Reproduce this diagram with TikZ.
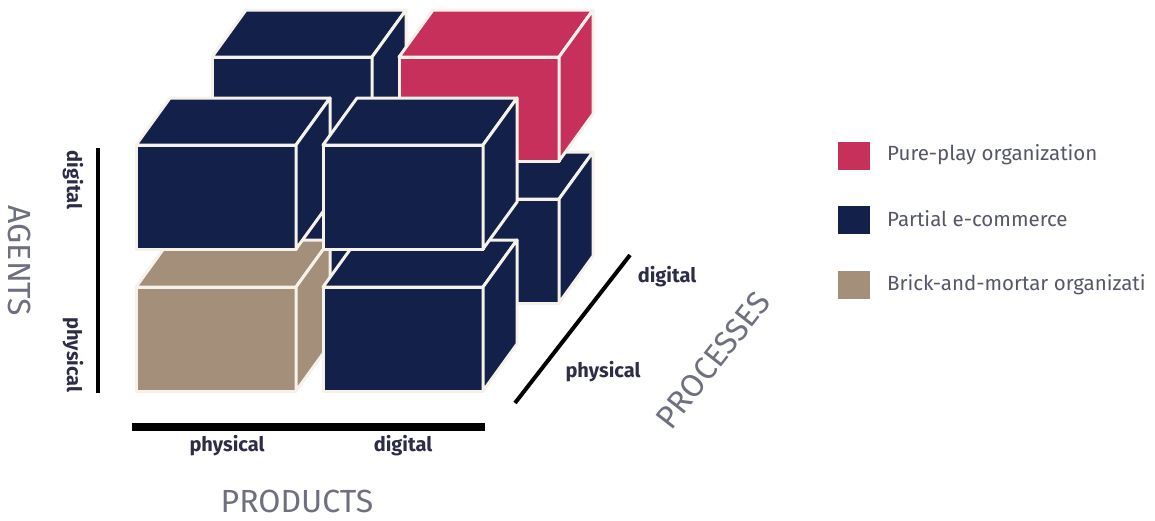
\documentclass[tikz,border=0pt]{standalone}
\usepackage{fontspec}
\setmainfont{Fira Sans}
\usepackage{tikz}
\usetikzlibrary{positioning}

\definecolor{navy}{HTML}{13214A}
\definecolor{pureplay}{HTML}{C8305C}
\definecolor{brick}{HTML}{A38F7A}
\definecolor{edge}{HTML}{F6F2EA}
\definecolor{legendgray}{HTML}{55566A}
\definecolor{titlegray}{HTML}{6E6F80}
\definecolor{labeldark}{HTML}{2E2D48}

% one box of the cube: front-top-left corner x, y and its fill colour
\newcommand{\cuboid}[3]{%
  \filldraw[boxedge,fill=#3] (#1,#2) rectangle ++(160,104);
  \filldraw[boxedge,fill=#3] (#1,#2) -- ++(160,0) -- ++(34,-47) -- ++(-160,0) -- cycle;
  \filldraw[boxedge,fill=#3] (#1+160,#2) -- ++(34,-47) -- ++(0,104) -- ++(-34,47) -- cycle;
}

\begin{document}
\begin{tikzpicture}[x=1pt,y=-1pt,
  boxedge/.style={draw=edge,line width=3pt,line join=round},
  axis/.style={line width=4pt,black},
  axlab/.style={labeldark,font=\fontsize{20}{20}\selectfont\bfseries},
  titletxt/.style={titlegray,font=\fontsize{32}{32}\selectfont},
  legbox/.style={minimum width=32pt,minimum height=28pt,inner sep=0pt},
  legtxt/.style={legendgray,anchor=west,inner sep=0pt,font=\fontsize{20.5}{20.5}\selectfont}]
\useasboundingbox (0,0) rectangle (1155,520);
%Boxes, back layer (digital processes)
\cuboid{212}{199}{navy}
\cuboid{399}{199}{navy}
\cuboid{212}{57}{navy}
\cuboid{399}{57}{pureplay}
%Boxes, front layer (physical processes)
\cuboid{136}{287}{brick}
\cuboid{323}{287}{navy}
\cuboid{136}{145}{navy}
\cuboid{323}{145}{navy}
%Axis Coordinates
\coordinate (AgTop) at (98,148);
\coordinate (AgBot) at (98,393);
\coordinate (PrLeft) at (132,427);
\coordinate (PrRight) at (485,427);
\coordinate (PcLow) at (515,403);
\coordinate (PcHigh) at (630,255);
%Axes
\draw [axis] (AgTop) -- (AgBot);
\draw [axis,line width=8pt] (PrLeft) -- (PrRight);
\draw [axis] (PcLow) -- (PcHigh);
%Axis Labels
\node [axlab,rotate=-90] at (73,180) (AgDigital) {digital};
\node [axlab,rotate=-90] at (73,355) (AgPhysical) {physical};
\node [titletxt,rotate=-90] at (20,261) (Agents) {AGENTS};
\node [axlab] at (227,446) (PrPhysical) {physical};
\node [axlab] at (403,446) (PrDigital) {digital};
\node [titletxt] at (297,501) (Products) {PRODUCTS};
\node [axlab] at (667,277) (PcDigital) {digital};
\node [axlab] at (603,372) (PcPhysical) {physical};
\node [titletxt,rotate=52] at (713,360) (Processes) {PROCESSES};
%Legend
\node [legbox,fill=pureplay] at (854,156) (KeyPure) {};
\node [legbox,fill=navy] at (854,220) (KeyPartial) {};
\node [legbox,fill=brick] at (854,285) (KeyBrick) {};
\node [legtxt] at (887,155) (TxtPure) {Pure-play organization};
\node [legtxt] at (887,219) (TxtPartial) {Partial e-commerce};
\node [legtxt] at (887,285) (TxtBrick) {Brick-and-mortar organizati};
\end{tikzpicture}
\end{document}
